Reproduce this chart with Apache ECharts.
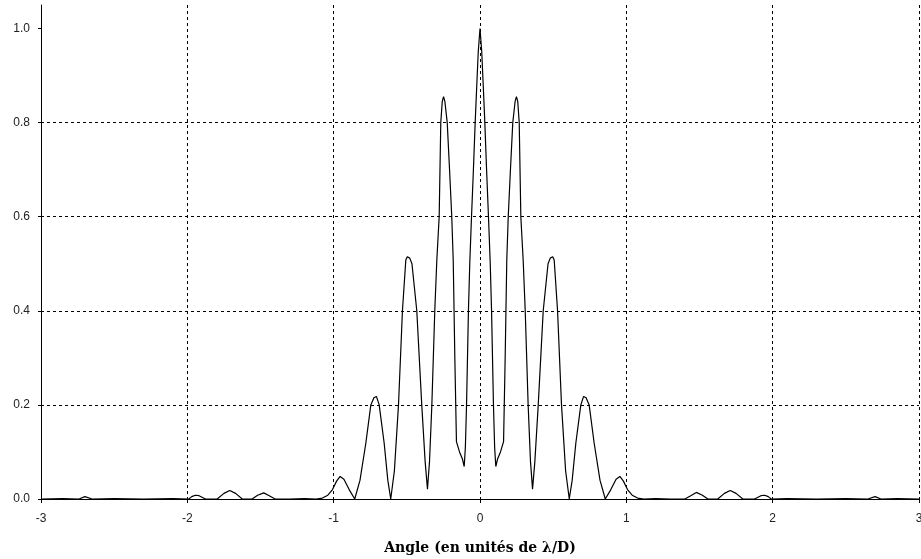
<!DOCTYPE html>
<html>
<head>
<meta charset="utf-8">
<script src="https://cdn.jsdelivr.net/npm/echarts@6/dist/echarts.min.js"></script>
<style>
html,body{margin:0;padding:0;background:#fff;}
#chart{width:921px;height:559px;}
</style>
</head>
<body>
<div id="chart"></div>
<script>
// Angle (units of lambda/D)
const angles = [
 -3.0,-2.85,-2.74,-2.70,-2.65,-2.5,-2.3,-2.1,-1.99,-1.97,-1.945,-1.92,-1.876,
 -1.796,-1.75,-1.71,-1.67,-1.625,-1.557,-1.52,-1.478,-1.44,-1.4,-1.3,-1.2,-1.12,
 -1.077,-1.04,-1.008,-0.98,-0.956,-0.93,-0.894,-0.856,-0.82,-0.78,-0.746,-0.725,-0.708,-0.689,-0.655,-0.63,
 -0.61,-0.585,-0.557,-0.53,-0.507,-0.497,-0.48,-0.465,-0.432,-0.398,-0.375,-0.359,-0.345,-0.329,-0.309,
 -0.295,-0.279,-0.268,-0.258,-0.249,-0.24,-0.224,-0.208,-0.193,-0.183,-0.172,-0.161,-0.14,-0.12,-0.108,
 -0.1,-0.092,-0.079,-0.07,-0.058,-0.045,-0.033,-0.022,-0.012,
 0,
 0.012,0.022,0.033,0.045,0.058,0.07,0.079,0.092,0.1,
 0.108,0.12,0.14,0.161,0.172,0.183,0.193,0.208,0.224,0.24,0.249,0.258,0.268,0.279,0.295,
 0.309,0.329,0.345,0.359,0.375,0.398,0.432,0.465,0.48,0.497,0.507,0.53,0.557,0.585,0.61,
 0.63,0.655,0.689,0.708,0.725,0.746,0.78,0.82,0.856,0.894,0.93,0.956,0.98,1.008,1.04,1.077,
 1.12,1.2,1.3,1.4,1.44,1.478,1.52,1.557,1.625,1.67,1.71,1.75,1.796,1.876,1.92,1.945,1.97,1.99,
 2.1,2.3,2.5,2.65,2.70,2.74,2.85,3.0
];
// Normalised intensity
const intensity = [
 0.0,0.001,0.0,0.005,0.0,0.001,0.0,0.001,0.0,0.005,0.008,0.007,0.0,
 0.0,0.012,0.018,0.012,0.0,0.0,0.008,0.013,0.007,0.0,0.0,0.001,0.0,
 0.002,0.008,0.02,0.038,0.048,0.042,0.02,0.0,0.04,0.119,0.20,0.215,0.218,0.20,0.119,0.04,
 0.0,0.06,0.20,0.40,0.508,0.515,0.512,0.50,0.40,0.20,0.08,0.021,0.08,0.20,0.40,
 0.508,0.60,0.80,0.845,0.855,0.845,0.80,0.70,0.60,0.508,0.30,0.122,0.10,0.085,0.069,
 0.11,0.20,0.40,0.50,0.60,0.70,0.80,0.88,0.95,
 1.0,
 0.95,0.88,0.80,0.70,0.60,0.50,0.40,0.20,0.11,
 0.069,0.085,0.10,0.122,0.30,0.508,0.60,0.70,0.80,0.845,0.855,0.845,0.80,0.60,0.508,
 0.40,0.20,0.08,0.021,0.08,0.20,0.40,0.50,0.512,0.515,0.508,0.40,0.20,0.06,0.0,
 0.04,0.119,0.20,0.218,0.215,0.20,0.119,0.04,0.0,0.02,0.042,0.048,0.038,0.02,0.008,0.002,
 0.0,0.001,0.0,0.0,0.007,0.014,0.008,0.0,0.0,0.012,0.018,0.012,0.0,0.0,0.007,0.008,0.005,0.0,
 0.001,0.0,0.001,0.0,0.005,0.0,0.001,0.0
];
const yTicks = [0, 0.2, 0.4, 0.6, 0.8, 1.0];
const xTitle = 'Angle (en unités de λ/D)';

const chart = echarts.init(document.getElementById('chart'), null, {renderer: 'canvas'});
const gridLine = {show: true, lineStyle: {color: '#000', width: 1, type: [3, 3]}};
chart.setOption({
  animation: false,
  backgroundColor: '#fff',
  grid: {left: 41, right: 2, top: 5, bottom: 60, containLabel: false, outerBoundsMode: 'none'},
  xAxis: {
    type: 'value', min: -3, max: 3, interval: 1,
    axisLine: {show: true, onZero: false, lineStyle: {color: '#000', width: 1}},
    axisTick: {show: true, length: 4, lineStyle: {color: '#000'}},
    axisLabel: {color: '#222', fontFamily: 'Liberation Sans', fontSize: 12, margin: 14},
    splitLine: gridLine,
    name: xTitle, nameLocation: 'middle', nameGap: 42,
    nameTextStyle: {fontFamily: 'DejaVu Serif', fontWeight: 'bold', fontSize: 14, color: '#000'}
  },
  yAxis: {
    type: 'value', min: 0, max: 1.05,
    axisLine: {show: true, onZero: false, lineStyle: {color: '#000', width: 1}},
    axisTick: {show: true, length: 3, lineStyle: {color: '#000'}, customValues: yTicks},
    axisLabel: {color: '#222', fontFamily: 'Liberation Sans', fontSize: 12, margin: 11,
      customValues: yTicks, formatter: v => v.toFixed(1)},
    splitLine: Object.assign({showMaxLine: false}, gridLine)
  },
  series: [{
    type: 'line',
    data: angles.map((a, i) => [a, intensity[i]]),
    showSymbol: false, symbol: 'none', smooth: false,
    lineStyle: {color: '#000', width: 1.2},
    z: 5
  }]
});
</script>
</body>
</html>
